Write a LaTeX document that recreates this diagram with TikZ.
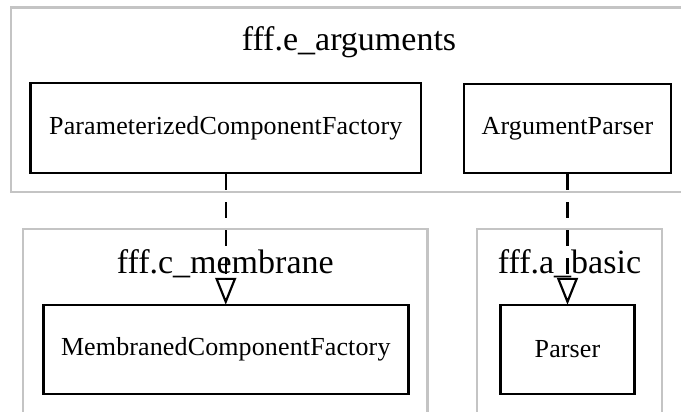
\documentclass[tikz,border=0pt]{standalone}
\usepackage{fontspec}
\setmainfont{Liberation Serif}
\newfontfamily\nodefont[LetterSpace=0.5]{Liberation Serif}
\usetikzlibrary{arrows.meta}
\definecolor{clustergray}{HTML}{C4C4C4}
\tikzset{
  cluster/.style={draw=clustergray, line width=2.2pt},
  classbox/.style={draw=black, line width=2.5pt, fill=white, inner sep=0pt,
    font=\nodefont\fontsize{26}{30}\selectfont},
  ctitle/.style={anchor=base, inner sep=0pt, font=\fontsize{34}{38}\selectfont},
  depedge/.style={draw=black, line width=2.2pt, dash pattern=on 16pt off 12pt,
    shorten >=-1pt,
    -{Triangle[open, length=27pt, width=21pt, line width=2.2pt]}}
}
\begin{document}
\begin{tikzpicture}[x=1pt, y=-1pt]
\useasboundingbox (0,0) rectangle (681,412);
\fill[white] (0,0) rectangle (681,412);
\clip (0,0) rectangle (681,412);
% clusters
\draw[cluster] (11,7.5) rectangle (687,192);
\draw[cluster] (23,229) rectangle (427.5,440);
\draw[cluster] (477,229) rectangle (662,440);
% cluster titles
\node[ctitle] (targs) at (349,51) {fff.e\_arguments};
\node[ctitle] (tmemb) at (225.25,273) {fff.c\_membrane};
\node[ctitle] (tbasic) at (569.5,273) {fff.a\_basic};
% class nodes
\node[classbox, minimum width=390.5pt, minimum height=90pt] (pcf) at (225.75,128) {ParameterizedComponentFactory};
\node[classbox, minimum width=207pt, minimum height=89pt] (ap) at (567.5,128.5) {ArgumentParser};
\node[classbox, minimum width=365pt, minimum height=89pt] (mcf) at (225.75,349.5) {MembranedComponentFactory};
\node[classbox, minimum width=134pt, minimum height=89pt] (parser) at (567.5,349.5) {Parser};
% dependencies
\draw[depedge] (pcf.south) -- (mcf.north);
\draw[depedge] (ap.south) -- (parser.north);
\end{tikzpicture}
\end{document}
